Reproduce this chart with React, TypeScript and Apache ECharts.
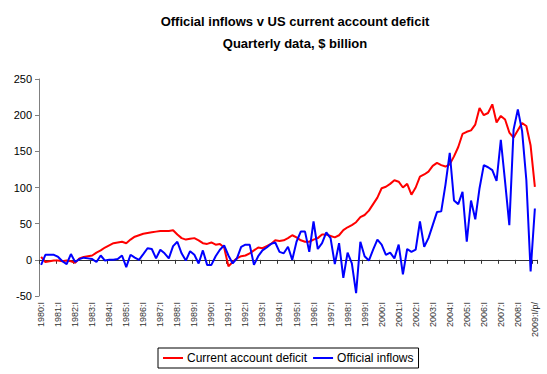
import React, { useEffect, useRef } from "react";
import * as echarts from "echarts";

const firstYear = 1980;
const lastYear = 2009;
const quarterNames = ["I", "II", "III", "IV"];
const lastLabel = "2009:I/p/";

const seriesNames = ["Current account deficit", "Official inflows"];

const currentAccountDeficit = [
  4, -3, -2, -1,
  -1, -2, -1, -2,
  -4, 2, 4, 5,
  6, 10, 13, 17,
  20, 23, 24, 25,
  23, 28, 32, 34,
  36, 37, 38, 39,
  40, 40, 40, 41,
  35, 30, 28, 29,
  30, 27, 23, 22,
  24, 21, 22, 17,
  -9, -3, 2, 5,
  6, 9, 13, 17,
  16, 19, 22, 27,
  26, 27, 30, 34,
  31, 27, 25, 25,
  28, 30, 35, 35,
  33, 31, 34, 41,
  45, 48, 52, 59,
  62, 68, 77, 86,
  99, 101, 105, 110,
  108, 100, 105, 90,
  100, 115, 118, 122,
  130, 134, 131, 129,
  132, 143, 156, 174,
  177, 179, 187, 210,
  200, 203, 215, 190,
  199, 194, 176, 169,
  179, 189, 185, 158,
  101,
];

const officialInflows = [
  -7, 7, 7, 7,
  4, -2, -6, 8,
  -3, 1, 3, 2,
  1, -3, 6, -1,
  0, 0, 1, 6,
  -10, 7, 3, 0,
  8, 16, 15, 2,
  14, 9, 2, 19,
  25, 9, -1, 12,
  7, -5, 13, -7,
  -7, 5, 14, 20,
  6, -5, 2, 18,
  21, 21, -7, 5,
  13, 17, 22, 24,
  11, 9, 18, 0,
  25, 39, 39, 11,
  53, 15, 23, 38,
  30, -6, 23, -25,
  10, -5, -46, 25,
  5, -1, 14, 28,
  21, 7, 10, 2,
  21, -20, 15, 11,
  14, 53, 18, 30,
  48, 66, 67, 104,
  148, 82, 77, 94,
  25, 82, 56, 99,
  131, 128, 124, 109,
  166, 108, 48, 180,
  208, 178, 110, -16,
  71,
];

const categories: string[] = [];
for (let y = firstYear; y <= lastYear; y++) {
  for (const q of quarterNames) {
    if (y === lastYear) {
      categories.push(lastLabel);
      break;
    }
    categories.push(`${y}:${q}`);
  }
}

const FONT = "Arial, 'Liberation Sans', sans-serif";

export default function App() {
  const ref = useRef<HTMLDivElement>(null);
  useEffect(() => {
    const chart = echarts.init(ref.current!, null, { renderer: "svg" });
    chart.setOption({
      animation: false,
      backgroundColor: "#ffffff",
      title: {
        text: "Official inflows v US current account deficit\nQuarterly data, $ billion",
        left: 290,
        top: 5,
        textAlign: "center",
        textStyle: {
          fontFamily: FONT,
          fontSize: 13,
          fontWeight: "bold",
          color: "#000",
          lineHeight: 22,
        },
      },
      legend: {
        data: seriesNames,
        left: 158,
        top: 348,
        orient: "horizontal",
        icon: "rect",
        itemWidth: 20,
        itemHeight: 2,
        itemGap: 6,
        padding: [4, 5, 4, 5],
        borderColor: "#000",
        borderWidth: 1,
        textStyle: { fontFamily: FONT, fontSize: 12, color: "#000", padding: [0, 0, 0, -1] },
      },
      grid: { left: 39, right: 10, top: 79, bottom: 78, containLabel: false },
      xAxis: [
        {
          type: "category",
          data: categories,
          boundaryGap: true,
          axisLine: { onZero: true, lineStyle: { color: "#333", width: 1 } },
          axisTick: { show: true, interval: 3, length: 4, lineStyle: { color: "#333" } },
          axisLabel: { show: false },
          splitLine: { show: false },
        },
        {
          type: "category",
          data: categories,
          boundaryGap: true,
          position: "bottom",
          axisLine: { show: false, onZero: false },
          axisTick: { show: false },
          axisLabel: {
            show: true,
            interval: 3,
            rotate: 90,
            fontSize: 9,
            fontFamily: FONT,
            color: "#333",
            margin: 6,
          },
          splitLine: { show: false },
        },
      ],
      yAxis: {
        type: "value",
        min: -50,
        max: 250,
        interval: 50,
        axisLine: { show: true, lineStyle: { color: "#808080", width: 1 } },
        axisTick: { show: true, length: 4, lineStyle: { color: "#808080" } },
        axisLabel: { fontFamily: FONT, fontSize: 11, color: "#000", margin: 7 },
        splitLine: { show: false },
      },
      series: [
        {
          name: seriesNames[0],
          type: "line",
          xAxisIndex: 0,
          data: currentAccountDeficit,
          symbol: "none",
          lineStyle: { color: "#ff0000", width: 2 },
          itemStyle: { color: "#ff0000" },
        },
        {
          name: seriesNames[1],
          type: "line",
          xAxisIndex: 0,
          data: officialInflows,
          symbol: "none",
          lineStyle: { color: "#0000ff", width: 2 },
          itemStyle: { color: "#0000ff" },
        },
      ],
    });
    return () => chart.dispose();
  }, []);
  return (
    <div
      ref={ref}
      style={{ position: "absolute", left: 0, top: 0, width: 547, height: 374, background: "#fff" }}
    />
  );
}
